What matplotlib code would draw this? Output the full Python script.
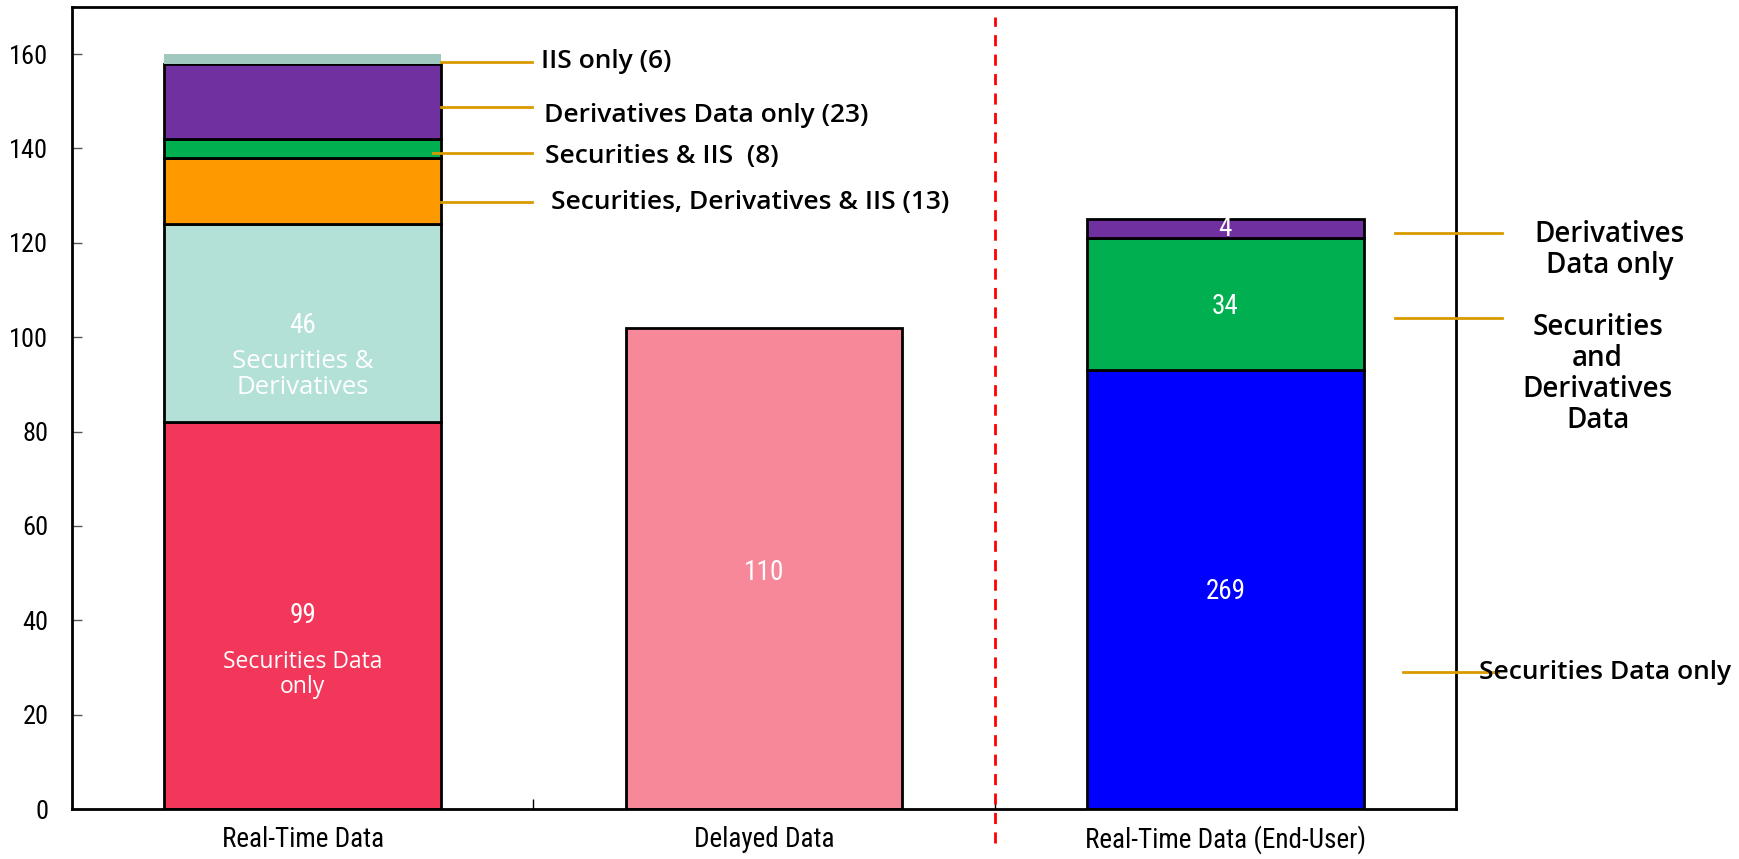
import numpy as np
import matplotlib
matplotlib.use("Agg")
import matplotlib.pyplot as plt
from matplotlib import font_manager as fm

# categories and stacked segment heights
cats = ["Real-Time Data", "Delayed Data", "Real-Time Data (End-User)"]
rt_vals = [82, 42, 14, 4, 16, 2]
rt_cols = ["#F2375A", "#B3E1D8", "#FF9900", "#00B050", "#7030A0", "#A0C8BE"]
rt_edge = [True, True, True, True, True, False]
delayed_vals = [102]
delayed_cols = ["#F6889A"]
eu_vals = [93, 28, 4]
eu_cols = ["#0000FF", "#00B050", "#7030A0"]

# numbers printed inside bars
rt_counts = ["99", "46"]
delayed_count = "110"
eu_counts = ["269", "34", "4"]

left_notes = ["IIS only (6)", "Derivatives Data only (23)",
              "Securities & IIS  (8)", "Securities, Derivatives & IIS (13)"]
right_notes = ["Derivatives\nData only", "Securities\nand\nDerivatives\nData",
               "Securities Data only"]

# pick a narrow font if one is around
names = set(f.name for f in fm.fontManager.ttflist)
narrow_fam = ["DejaVu Sans"]
narrow_stretch = "normal"
for n in ["Liberation Sans Narrow", "Roboto Condensed", "Open Sans Condensed"]:
    if n in names:
        narrow_fam = [n, "DejaVu Sans"]
        break
else:
    for f in fm.fontManager.ttflist:
        if f.name == "DejaVu Sans" and str(f.stretch) in ("condensed", "semi-condensed"):
            narrow_stretch = "condensed"
            break
nar = dict(family=narrow_fam, stretch=narrow_stretch)
sans = ["Open Sans", "DejaVu Sans"]
gold = "#D99A00"

fig = plt.figure(figsize=(17.4, 8.59), dpi=100)
ax = fig.add_axes([0.0414, 0.0582, 0.7954, 0.9337])

w = 0.6
x = np.arange(len(cats))

bottom = 0
for v, c, e in zip(rt_vals, rt_cols, rt_edge):
    ax.bar(x[0], v, w, bottom=bottom, color=c,
           edgecolor="black" if e else "none", linewidth=2, zorder=2)
    bottom += v
ax.bar(x[1], delayed_vals[0], w, color=delayed_cols[0], edgecolor="black",
       linewidth=2, zorder=2)
bottom = 0
for v, c in zip(eu_vals, eu_cols):
    ax.bar(x[2], v, w, bottom=bottom, color=c, edgecolor="black",
           linewidth=2, zorder=2)
    bottom += v

# text inside bars
ax.text(x[0], 41, rt_counts[0], color="white", ha="center", va="center",
        fontsize=19.5, **nar)
ax.text(x[0], 28.6, "Securities Data\nonly", color="white", ha="center",
        va="center", fontsize=16.5, family=sans, linespacing=1.05)
ax.text(x[0], 102.5, rt_counts[1], color="white", ha="center", va="center",
        fontsize=19.5, **nar)
ax.text(x[0], 92, "Securities &\nDerivatives", color="white", ha="center",
        va="center", fontsize=18.5, family=sans, linespacing=1.05)
ax.text(x[1], 50.2, delayed_count, color="white", ha="center", va="center",
        fontsize=19.5, **nar)
for yy, s in zip([46.2, 106.5, 123], eu_counts):
    ax.text(x[2], yy, s, color="white", ha="center", va="center",
            fontsize=19.5, **nar)

# left callouts
ly = [158.3, 148.7, 139, 128.6]
ty = [158.5, 147, 138.3, 128.6]
lx0 = [0.3, 0.3, 0.282, 0.3]
tx = [0.516, 0.523, 0.525, 0.538]
for i in range(4):
    ax.plot([lx0[i], 0.497], [ly[i], ly[i]], color=gold, lw=2, zorder=3)
    ax.text(tx[i], ty[i], left_notes[i], ha="left", va="center", fontsize=19,
            family=sans, fontweight="semibold")

# right callouts (outside the axes)
ax.plot([2.367, 2.599], [122, 122], color=gold, lw=2, clip_on=False, zorder=3)
ax.text(2.833, 118.5, right_notes[0], ha="center", va="center", fontsize=20,
        family=sans, fontweight="semibold", linespacing=1.1)
ax.plot([2.367, 2.599], [104, 104], color=gold, lw=2, clip_on=False, zorder=3)
ax.text(2.807, 92.2, right_notes[1], ha="center", va="center", fontsize=20,
        family=sans, fontweight="semibold", linespacing=1.1)
ax.plot([2.386, 2.592], [29, 29], color=gold, lw=2, clip_on=False, zorder=3)
ax.text(2.549, 29, right_notes[2], ha="left", va="center", fontsize=19,
        family=sans, fontweight="semibold")

# red divider
ax.plot([1.5, 1.5], [-7.2, 167.8], color="red", lw=2, ls=(0, (4, 3)),
        clip_on=False, zorder=4)

ax.set_xlim(-0.5, 2.5)
ax.set_ylim(0, 170)
ax.set_yticks(np.arange(0, 161, 20))
ax.set_xticks(x)
ax.set_xticklabels(cats, fontsize=19.5, **nar)
ax.set_xticks([0.5, 1.5], minor=True)
ax.tick_params(axis="x", which="major", length=0, pad=12)
ax.tick_params(axis="x", which="minor", direction="in", length=7, width=1)
ax.tick_params(axis="y", direction="in", length=7, width=1, color="#555555",
               labelsize=19, pad=17)
for lab in ax.get_yticklabels():
    lab.set_family(narrow_fam)
    lab.set_stretch(narrow_stretch)
for sp in ax.spines.values():
    sp.set_linewidth(2)

fig.savefig("out.png", dpi=100)
